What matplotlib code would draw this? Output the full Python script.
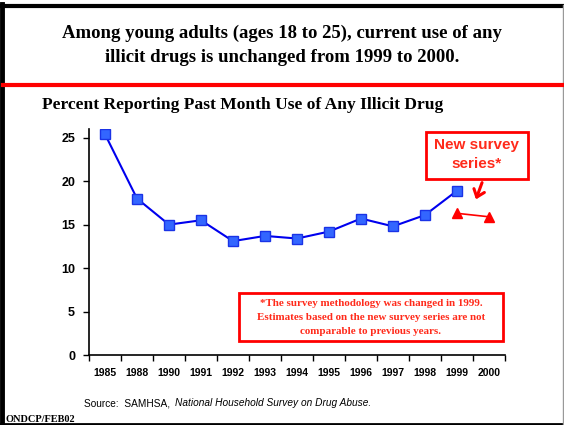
import matplotlib
matplotlib.use("Agg")
import matplotlib.pyplot as plt
from matplotlib.patches import Rectangle, FancyArrowPatch
from matplotlib.lines import Line2D

years = ["1985", "1988", "1990", "1991", "1992", "1993", "1994",
         "1995", "1996", "1997", "1998", "1999", "2000"]
old_series = [25.4, 18.0, 15.0, 15.5, 13.1, 13.7, 13.4, 14.2, 15.7, 14.8, 16.1, 18.9]
new_years = ["1999", "2000"]
new_series = [16.3, 15.9]

W, H = 564, 425
SERIF = "Liberation Serif"
SANS = "Liberation Sans"
RED = "#FF0000"
TEXT_RED = "#FF2A1A"


def fx(px):
    return px / W


def fy(py):
    return 1 - py / H


fig = plt.figure(figsize=(W / 100, H / 100), dpi=100)
fig.patch.set_facecolor("white")

# page frame
fig.add_artist(Line2D([fx(2), fx(2)], [fy(4), fy(424)], color="black", lw=3.5))
fig.add_artist(Line2D([fx(0), fx(564)], [fy(5.5), fy(5.5)], color="black", lw=3))
fig.add_artist(Line2D([fx(0), fx(564)], [fy(424), fy(424)], color="black", lw=2))
fig.add_artist(Line2D([fx(562.5), fx(562.5)], [fy(5), fy(424)], color="#999999", lw=1))
fig.add_artist(Line2D([fx(3), fx(564)], [fy(85), fy(85)], color=RED, lw=3))

fig.text(0.5, fy(33), "Among young adults (ages 18 to 25), current use of any",
         ha="center", va="center", fontsize=13.5, fontweight="bold", family=SERIF)
fig.text(0.5, fy(58), "illicit drugs is unchanged from 1999 to 2000.",
         ha="center", va="center", fontsize=13.5, fontweight="bold", family=SERIF)
fig.text(fx(42), fy(105), "Percent Reporting Past Month Use of Any Illicit Drug",
         ha="left", va="center", fontsize=12.6, fontweight="bold", family=SERIF)

ax = fig.add_axes([fx(89), fy(355), fx(416), 226 / H])
x = list(range(len(years)))
ax.plot(x[:len(old_series)], old_series, color="#0000EE", lw=1.5, marker="s",
        markersize=7.5, markerfacecolor="#3366FF", markeredgecolor="#1A33E6",
        markeredgewidth=1.0, zorder=3)
nx = [years.index(y) for y in new_years]
ax.plot(nx, new_series, color=RED, lw=1.2, marker="^", markersize=7.5,
        markerfacecolor=RED, markeredgecolor=RED, zorder=3)

ax.set_xlim(-0.5, len(years) - 0.5)
ax.set_ylim(0, 26)
ax.set_yticks([0, 5, 10, 15, 20, 25])
ax.set_xticks(x)
ax.set_xticklabels(years)
ax.set_xticks([i - 0.5 for i in range(len(years) + 1)], minor=True)
ax.tick_params(axis="x", which="major", length=0, pad=9, labelsize=7.5)
ax.tick_params(axis="x", which="minor", length=4, width=1, direction="out")
ax.tick_params(axis="y", length=4, width=1, pad=6, labelsize=9)
for lab in ax.get_xticklabels() + ax.get_yticklabels():
    lab.set_family(SANS)
    lab.set_fontweight("bold")
for s in ["top", "right"]:
    ax.spines[s].set_visible(False)
ax.spines["left"].set_linewidth(1.2)
ax.spines["bottom"].set_linewidth(1.2)

# "New survey series*" callout
fig.add_artist(Rectangle((fx(426), fy(179)), fx(102), 47 / H, fill=False,
                         edgecolor=RED, lw=2))
fig.text(fx(477), fy(145), "New survey", ha="center", va="center",
         fontsize=11, fontweight="bold", family=SANS, color=TEXT_RED)
fig.text(fx(477), fy(164), "series*", ha="center", va="center",
         fontsize=11, fontweight="bold", family=SANS, color=TEXT_RED)
fig.add_artist(FancyArrowPatch(
    (fx(483), fy(180)), (fx(475), fy(202)), transform=fig.transFigure,
    arrowstyle="->,head_length=5,head_width=4", color=RED, lw=2.2))

# methodology footnote
fig.add_artist(Rectangle((fx(239), fy(341)), fx(264), 48 / H, fill=False,
                         edgecolor=RED, lw=2))
notes = ["*The survey methodology was changed in 1999.",
         "Estimates based on the new survey series are not",
         "comparable to previous years."]
for yy, line in zip([303, 318, 332], notes):
    fig.text(fx(371), fy(yy), line, ha="center", va="center",
             fontsize=7.9, fontweight="bold", family=SERIF, color=TEXT_RED)

fig.text(fx(84), fy(403), "Source:  SAMHSA,", ha="left", va="center",
         fontsize=7.3, family=SANS)
fig.text(fx(175), fy(403), "National Household Survey on Drug Abuse.",
         ha="left", va="center", fontsize=7.3, family=SANS, style="italic")
fig.text(fx(5), fy(420), "ONDCP/FEB02", ha="left", va="center",
         fontsize=7.5, fontweight="bold", family=SERIF)

fig.savefig("out.png", dpi=100)
